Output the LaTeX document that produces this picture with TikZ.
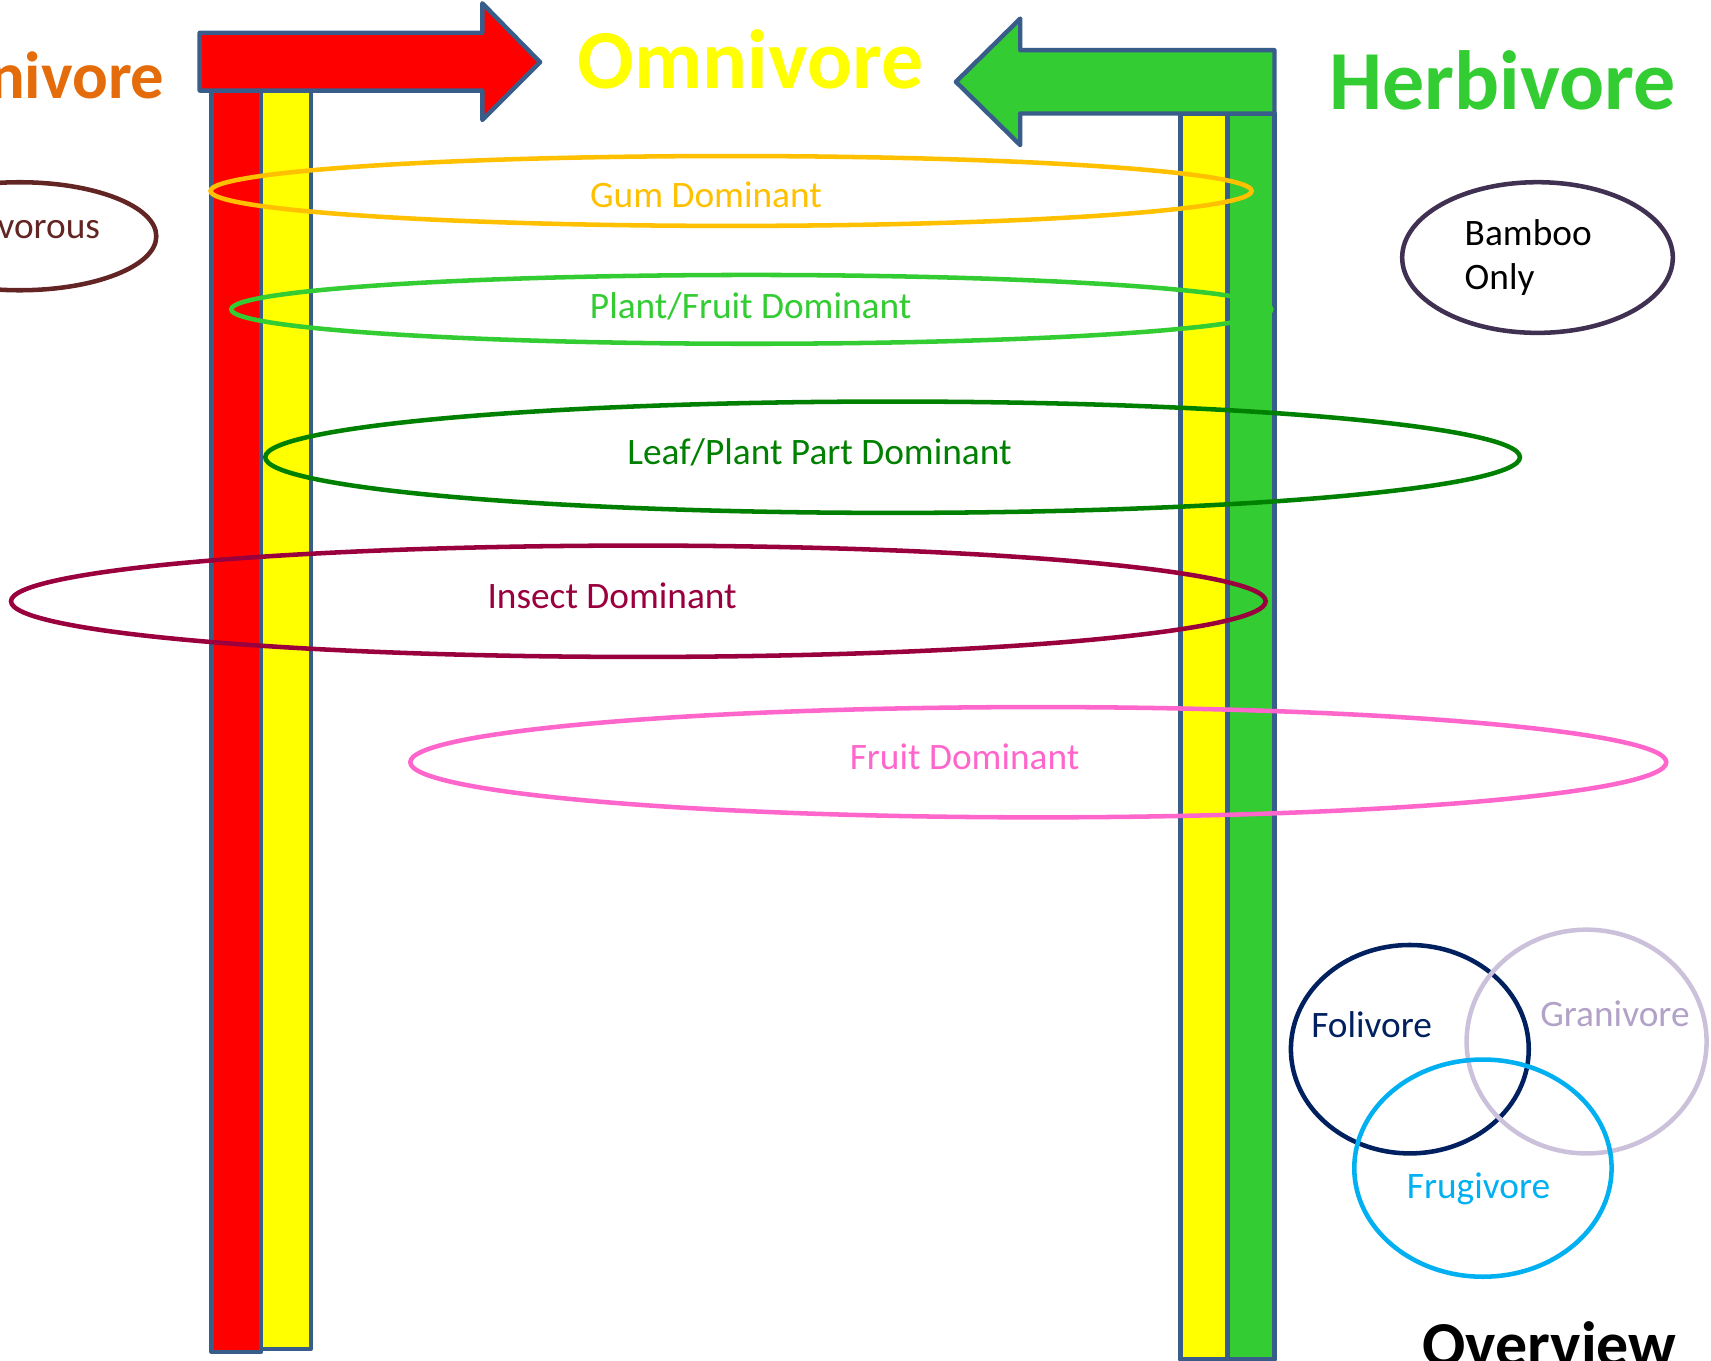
\documentclass[tikz,border=0pt]{standalone}
\usepackage{fontspec}
\setmainfont{Carlito}
\usepackage{tikz}
\usetikzlibrary{shapes.geometric}
\definecolor{outl}{HTML}{385D8A}
\definecolor{carnired}{HTML}{FF0000}
\definecolor{omniyellow}{HTML}{FFFF00}
\definecolor{herbigreen}{HTML}{33CC33}
\definecolor{carniorange}{HTML}{E46C0A}
\definecolor{gumcol}{HTML}{FFC000}
\definecolor{leafcol}{HTML}{008000}
\definecolor{insectcol}{HTML}{99003D}
\definecolor{fruitcol}{HTML}{FF66CC}
\definecolor{vorouscol}{HTML}{632523}
\definecolor{bamboocol}{HTML}{403152}
\definecolor{folicol}{HTML}{002060}
\definecolor{granicol}{HTML}{CCC1DA}
\definecolor{granitext}{HTML}{B3A2C7}
\definecolor{frugicol}{HTML}{00B0F0}

\begin{document}
\begin{tikzpicture}[x=0.8184pt,y=-0.8184pt,
  bar/.style={draw=outl,line width=3.3pt,line join=round},
  ring/.style={ellipse,draw,line width=3.4pt,inner sep=0pt},
  lbl/.style={font=\fontsize{28}{33.6}\selectfont,anchor=base},
  title/.style={font=\fontsize{63}{70}\selectfont\bfseries,anchor=base}]
\useasboundingbox (0,0) rectangle (1568,1247);
\clip (0,0) rectangle (1568,1247);
% pillars
\draw[bar,fill=carnired] (194,83) rectangle (239,1239);
\draw[bar,fill=omniyellow] (239,83) rectangle (285,1236);
\draw[bar,fill=omniyellow] (1082,104) rectangle (1125,1246);
\draw[bar,fill=herbigreen] (1125,104) rectangle (1168,1246);
% block arrows
\draw[bar,fill=carnired] (183,30) -- (442,30) -- (442,3) -- (495,57) -- (442,110) -- (442,83) -- (183,83) -- cycle;
\draw[bar,fill=herbigreen] (1168,46) -- (935,46) -- (935,17) -- (876,75) -- (935,133) -- (935,104) -- (1168,104) -- cycle;
% titles
\node[title,text=carniorange,anchor=base east,font=\fontsize{50}{56}\selectfont\bfseries] (carnititle) at (155,90) {nivore};
\node[title,text=omniyellow] (omnititle) at (688,81) {Omnivore};
\node[title,text=herbigreen] (herbititle) at (1377,100) {Herbivore};
% diet rings
\node[ring,draw=gumcol,minimum width=780.8pt,minimum height=52.4pt] (gum) at (670,175) {};
\node[ring,draw=herbigreen,minimum width=780pt,minimum height=51.6pt] (plantfruit) at (688.5,283.5) {};
\node[ring,draw=leafcol,minimum width=941pt,minimum height=83.5pt] (leaf) at (818,419) {};
\node[ring,draw=insectcol,minimum width=941pt,minimum height=83.5pt] (insect) at (585,551) {};
\node[ring,draw=fruitcol,minimum width=942pt,minimum height=82.7pt] (fruit) at (951.5,698.5) {};
\node[lbl,text=gumcol] (gumtext) at (647,190) {Gum Dominant};
\node[lbl,text=herbigreen] (plantfruittext) at (688,292) {Plant/Fruit Dominant};
\node[lbl,text=leafcol] (leaftext) at (751,426) {Leaf/Plant Part Dominant};
\node[lbl,text=insectcol] (insecttext) at (561,558) {Insect Dominant};
\node[lbl,text=fruitcol] (fruittext) at (884,705) {Fruit Dominant};
% side rings
\node[ring,draw=vorouscol,minimum width=205pt,minimum height=81pt] (vorous) at (18,216.5) {};
\node[lbl,text=vorouscol,anchor=base east] (voroustext) at (96,219) {vorous};
\node[ring,draw=bamboocol,minimum width=203pt,minimum height=113pt] (bamboo) at (1409,236) {};
\node[lbl,anchor=west,align=left] (bambootext) at (1338,236) {Bamboo\\Only};
% overview
\node[ring,draw=folicol,minimum width=178.4pt,minimum height=156.3pt] (foli) at (1292,961.5) {};
\node[ring,draw=granicol,minimum width=180pt,minimum height=167.8pt] (grani) at (1454,954.5) {};
\node[ring,draw=frugicol,minimum width=193pt,minimum height=162.9pt] (frugi) at (1359,1070.5) {};
\node[lbl,text=folicol] (folitext) at (1257,951) {Folivore};
\node[lbl,text=granitext] (granitext) at (1480,941) {Granivore};
\node[lbl,text=frugicol] (frugitext) at (1355,1098) {Frugivore};
\node[anchor=base,font=\fontsize{48}{56}\selectfont\bfseries] (overview) at (1420,1252) {Overview};
\end{tikzpicture}
\end{document}
